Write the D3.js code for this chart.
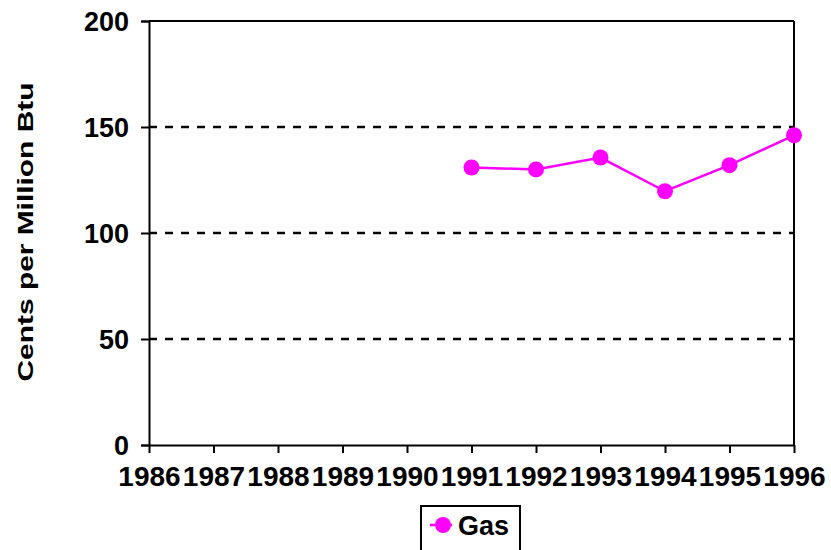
<!DOCTYPE html>
<html><head><meta charset="utf-8">
<script src="https://cdn.jsdelivr.net/npm/d3@7"></script>
<style>body{margin:0;background:#fff}svg{display:block}text{font-family:"Liberation Sans",Arial,sans-serif;font-weight:bold;fill:#000}</style>
</head><body><svg id="c" width="831" height="550"></svg>
<script>
const years = ["1986","1987","1988","1989","1990","1991","1992","1993","1994","1995","1996"];
const gasValues = [null,null,null,null,null,130.9,130.0,135.6,119.7,132.0,146.1];
const yTicks = [0,50,100,150,200];
const seriesName = "Gas";
const yTitle = "Cents per Million Btu";

const svg = d3.select("#c");
const L=149,R=794,T=21,B=445;
const x = d3.scalePoint().domain(years).range([L,R]);
const y = d3.scaleLinear().domain([0,200]).range([B,T]);

// gridlines
svg.append("g").selectAll("line").data(yTicks.filter(d=>d>0&&d<200)).join("line")
  .attr("x1",L).attr("x2",R).attr("y1",d=>y(d)).attr("y2",d=>y(d))
  .attr("stroke","#000").attr("stroke-width",2.5).attr("stroke-dasharray","8,8");
// top and right border
svg.append("line").attr("x1",L).attr("x2",R).attr("y1",y(200)).attr("y2",y(200)).attr("stroke","#000").attr("stroke-width",2);
svg.append("line").attr("x1",R).attr("x2",R).attr("y1",T).attr("y2",B).attr("stroke","#000").attr("stroke-width",2);

// y axis
const ya = svg.append("g").attr("transform",`translate(${L},0)`)
  .call(d3.axisLeft(y).tickValues(yTicks).tickSize(8).tickPadding(12).tickFormat(d3.format("d")));
ya.select(".domain").attr("stroke-width",2);
ya.selectAll(".tick line").attr("stroke-width",2);
ya.selectAll("text").attr("font-size",27).attr("dy","0.35em").style("font-family","Liberation Sans, Arial, sans-serif").style("font-weight","bold");

// x axis
const xa = svg.append("g").attr("transform",`translate(0,${B})`)
  .call(d3.axisBottom(x).tickSize(8).tickPadding(13).tickSizeOuter(0));
xa.select(".domain").attr("stroke-width",2);
xa.selectAll(".tick line").attr("stroke-width",2);
xa.selectAll("text").attr("font-size",28).style("font-family","Liberation Sans, Arial, sans-serif").style("font-weight","bold");

// y title
svg.append("text").attr("transform","translate(33,232) rotate(-90)")
  .attr("text-anchor","middle").attr("font-size",22)
  .attr("textLength",299).attr("lengthAdjust","spacingAndGlyphs").text(yTitle);

// series
const pts = years.map((yr,i)=>({yr,v:gasValues[i]})).filter(d=>d.v!=null);
svg.append("path").datum(pts)
  .attr("d",d3.line().x(d=>x(d.yr)).y(d=>y(d.v)))
  .attr("fill","none").attr("stroke","#ff00ff").attr("stroke-width",2.5);
svg.append("g").selectAll("circle").data(pts).join("circle")
  .attr("cx",d=>x(d.yr)).attr("cy",d=>y(d.v)).attr("r",8).attr("fill","#ff00ff");

// legend
const lg = svg.append("g");
lg.append("rect").attr("x",421).attr("y",506).attr("width",99).attr("height",50)
  .attr("fill","#fff").attr("stroke","#000").attr("stroke-width",2);
lg.append("line").attr("x1",430).attr("x2",452).attr("y1",525).attr("y2",525).attr("stroke","#ff00ff").attr("stroke-width",2.5);
lg.append("circle").attr("cx",443).attr("cy",525).attr("r",8).attr("fill","#ff00ff");
lg.append("text").attr("x",458).attr("y",535).attr("font-size",27).text(seriesName);
</script></body></html>
